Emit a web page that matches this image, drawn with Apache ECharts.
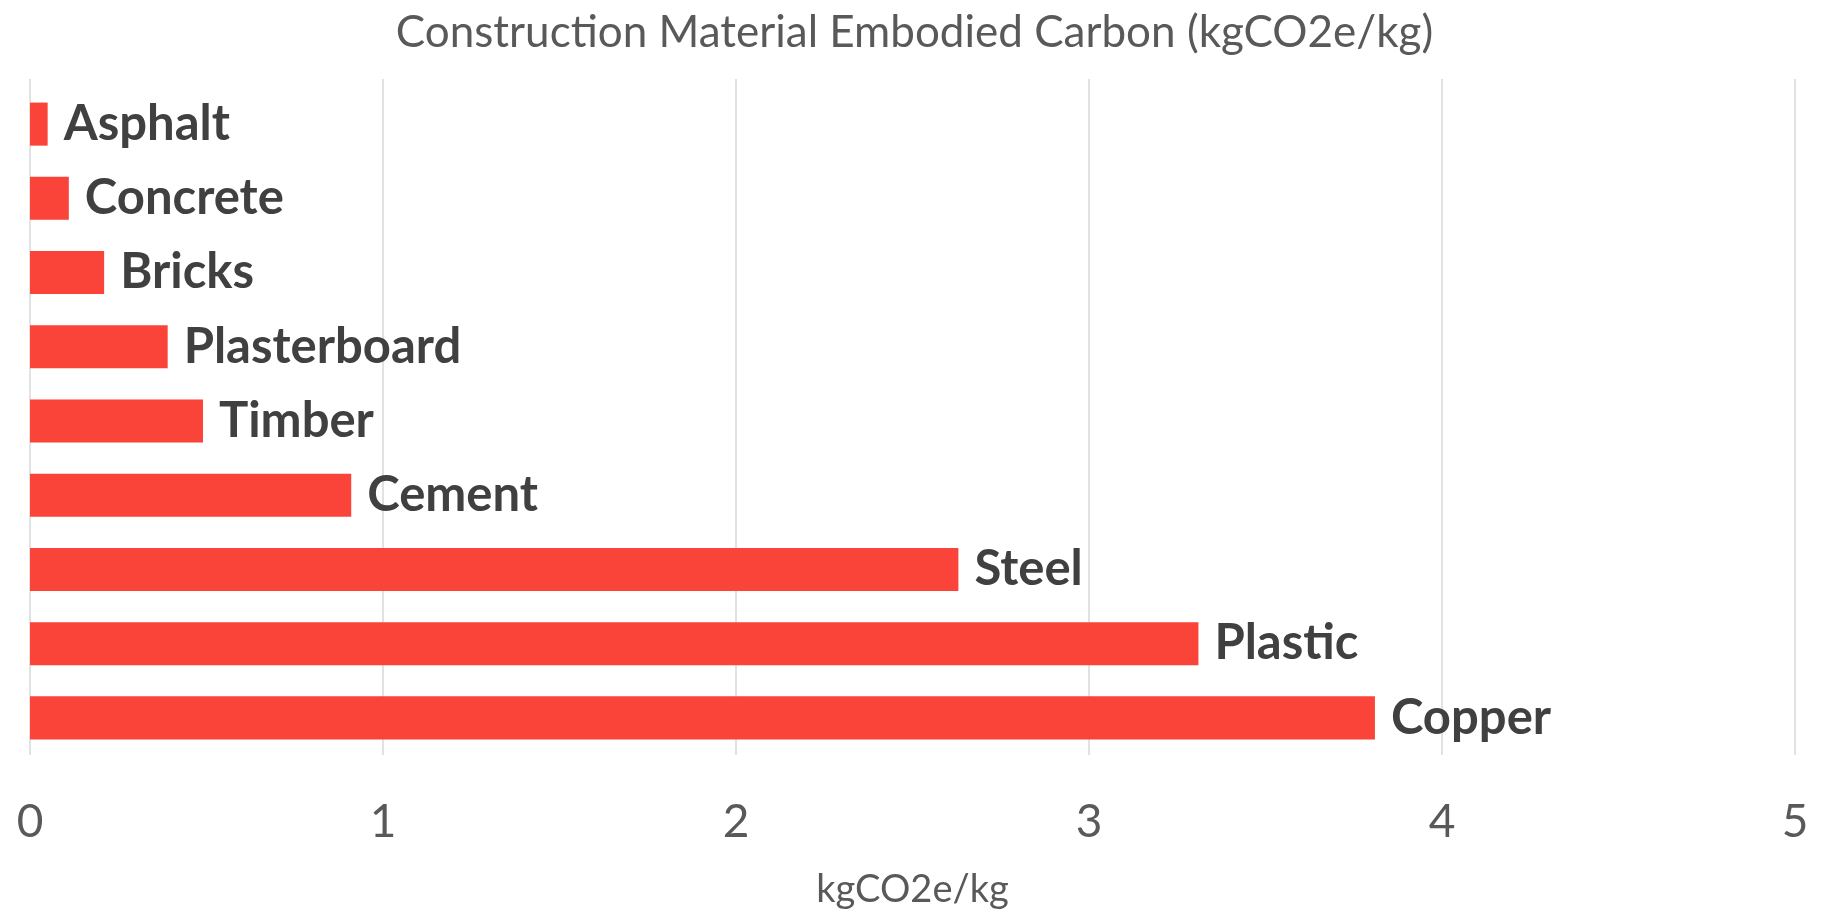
<!DOCTYPE html>
<html><head><meta charset="utf-8">
<script src="https://cdn.jsdelivr.net/npm/echarts@6/dist/echarts.min.js"></script>
<style>html,body{margin:0;padding:0;background:#fff}#c{width:1829px;height:914px}</style>
</head><body><div id="c"></div>
<script>
const categories = ["Asphalt","Concrete","Bricks","Plasterboard","Timber","Cement","Steel","Plastic","Copper"];
const values = [0.05, 0.11, 0.21, 0.39, 0.49, 0.91, 2.63, 3.31, 3.81];
const title = "Construction Material Embodied Carbon (kgCO2e/kg)";
const axisName = "kgCO2e/kg";
const xTicks = {min: 0, max: 5, interval: 1};

const chart = echarts.init(document.getElementById('c'));
chart.setOption({
  animation: false,
  backgroundColor: '#fff',
  title: {text: title, left: 'center', top: 6, textStyle: {fontFamily: 'Lato', fontWeight: 'normal', fontSize: 44, color: '#595959'}},
  grid: [
    {left: 30, right: 34, top: 79, bottom: 158, containLabel: false},
    {left: 30, right: 34, top: 87, bottom: 159, containLabel: false}
  ],
  xAxis: [
    {type: 'value', gridIndex: 0, min: xTicks.min, max: xTicks.max, interval: xTicks.interval,
      name: axisName, nameLocation: 'middle', nameGap: 116,
      nameTextStyle: {fontFamily: 'Lato', fontSize: 38, color: '#595959'},
      axisLine: {show: false}, axisTick: {show: false},
      axisLabel: {fontFamily: 'Lato', fontSize: 46, color: '#595959', margin: 44},
      splitLine: {show: true, lineStyle: {color: '#d9d9d9', width: 1.5}}},
    {type: 'value', gridIndex: 1, min: xTicks.min, max: xTicks.max, interval: xTicks.interval,
      axisLine: {show: false}, axisTick: {show: false}, axisLabel: {show: false}, splitLine: {show: false}}
  ],
  yAxis: [
    {type: 'category', gridIndex: 0, data: categories, inverse: true, show: false},
    {type: 'category', gridIndex: 1, data: categories, inverse: true,
      axisLine: {show: false}, axisTick: {show: false}, axisLabel: {show: false}, splitLine: {show: false}}
  ],
  series: [{type: 'bar', xAxisIndex: 1, yAxisIndex: 1, data: values, barCategoryGap: '42%',
    itemStyle: {color: '#FA4339'},
    label: {show: true, position: 'right', distance: 16, formatter: '{b}',
      fontFamily: 'Lato', fontWeight: 'bold', fontSize: 49, color: '#404040'}}]
});
</script></body></html>
